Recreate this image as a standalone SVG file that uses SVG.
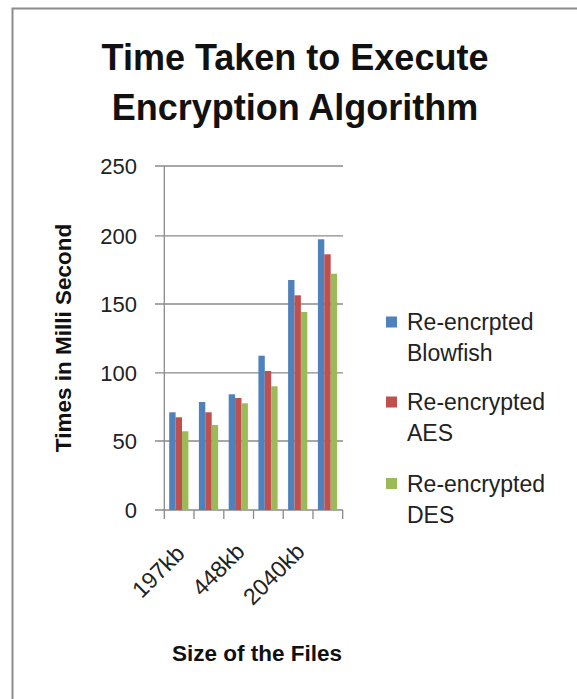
<svg xmlns="http://www.w3.org/2000/svg" width="577" height="699" viewBox="0 0 577 699">
<style>
text{font-family:"Liberation Sans",Arial,sans-serif;fill:#111}
.title{font-size:36px;font-weight:bold;text-anchor:middle}
.ylab{font-size:22px;text-anchor:end;fill:#222}
.xlab{font-size:23px;text-anchor:end;fill:#222}
.atitle{font-size:22.5px;font-weight:bold;text-anchor:middle}
.leg{font-size:23px;fill:#222}
.grid{stroke:#8a8a8a;stroke-width:1.3;fill:none}
.b{fill:#4F81BD}.r{fill:#C0504D}.g{fill:#9BBB59}
</style>
<rect x="0" y="0" width="577" height="699" fill="#fff"/>
<rect id="frame" x="12.5" y="8.5" width="580" height="700" fill="none" stroke="#8c8c8c" stroke-width="2"/>
<g id="title">
<text class="title" x="295" y="70">Time Taken to Execute</text>
<text class="title" x="295" y="120">Encryption Algorithm</text>
</g>
<g id="connectors">
<path class="grid" d="M155 166H343M155 235.8H343M155 304H343M155 372.8H343M155 441H343M155 510H343"/>
<path class="grid" d="M164.3 166V519M194 510V519M223.8 510V519M253.5 510V519M283.2 510V519M313 510V519M342.7 510V519"/>
</g>
<g id="y-axis-labels">
<text class="ylab" x="137" y="174">250</text>
<text class="ylab" x="137" y="243.5">200</text>
<text class="ylab" x="137" y="311.5">150</text>
<text class="ylab" x="137" y="380.5">100</text>
<text class="ylab" x="137" y="448.5">50</text>
<text class="ylab" x="137" y="518">0</text>
</g>
<g id="series-blowfish">
<rect class="b" x="169.2" y="412.3" width="6.4" height="97.7"/>
<rect class="b" x="198.9" y="402" width="6.4" height="108"/>
<rect class="b" x="228.7" y="394.3" width="6.4" height="115.7"/>
<rect class="b" x="258.4" y="355.7" width="6.4" height="154.3"/>
<rect class="b" x="288.1" y="280" width="6.4" height="230"/>
<rect class="b" x="317.9" y="239.3" width="6.4" height="270.7"/>
</g>
<g id="series-aes">
<rect class="r" x="175.6" y="417.3" width="6.4" height="92.7"/>
<rect class="r" x="205.3" y="412.3" width="6.4" height="97.7"/>
<rect class="r" x="235.1" y="398" width="6.4" height="112"/>
<rect class="r" x="264.8" y="371" width="6.4" height="139"/>
<rect class="r" x="294.5" y="295.3" width="6.4" height="214.7"/>
<rect class="r" x="324.3" y="254.3" width="6.4" height="255.7"/>
</g>
<g id="series-des">
<rect class="g" x="182" y="431.3" width="6.4" height="78.7"/>
<rect class="g" x="211.7" y="425" width="6.4" height="85"/>
<rect class="g" x="241.5" y="403.3" width="6.4" height="106.7"/>
<rect class="g" x="271.2" y="386.3" width="6.4" height="123.7"/>
<rect class="g" x="300.9" y="312" width="6.4" height="198"/>
<rect class="g" x="330.7" y="273.7" width="6.4" height="236.3"/>
</g>
<g id="x-axis-labels">
<text class="xlab" transform="translate(186 555) rotate(-45)">197kb</text>
<text class="xlab" transform="translate(246 553) rotate(-45)">448kb</text>
<text class="xlab" transform="translate(306 553) rotate(-45)">2040kb</text>
</g>
<g id="axis-titles">
<text class="atitle" x="257" y="661">Size of the Files</text>
<text class="atitle" transform="translate(71 338) rotate(-90)">Times in Milli Second</text>
</g>
<g id="legend">
<rect class="b" x="386" y="316.5" width="11" height="11"/>
<text class="leg" x="407" y="330">Re-encrpted</text>
<text class="leg" x="407" y="361">Blowfish</text>
<rect class="r" x="386" y="396.5" width="11" height="11"/>
<text class="leg" x="407" y="410">Re-encrypted</text>
<text class="leg" x="407" y="441">AES</text>
<rect class="g" x="386" y="478" width="11" height="11"/>
<text class="leg" x="407" y="491.5">Re-encrypted</text>
<text class="leg" x="407" y="522.5">DES</text>
</g>
</svg>
